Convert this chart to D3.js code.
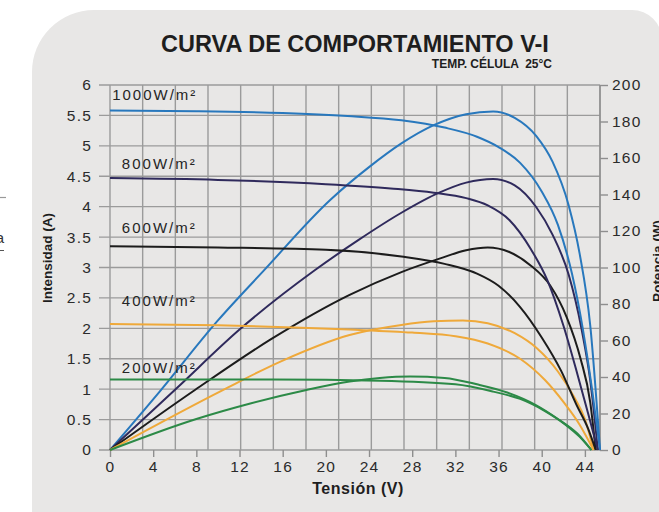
<!DOCTYPE html>
<html>
<head>
<meta charset="utf-8">
<script src="https://cdn.jsdelivr.net/npm/d3@7"></script>
<style>
  body { margin: 0; background: #fff; }
  svg { display: block; font-family: "Liberation Sans", Arial, sans-serif; }
</style>
</head>
<body>
<div id="chart"></div>
<script>
// irradiance levels, top to bottom
var levels = ["1000W/m²", "800W/m²", "600W/m²", "400W/m²", "200W/m²"]

// I-V curves, [tension V, intensity A]
var iv1000 = [[0,5.58],[8,5.57],[16,5.54],[22,5.49],[27,5.42],[31,5.3],[34,5.15],[36,4.98],[38,4.72],[40,4.25],[41.5,3.7],[42.8,2.9],[43.8,2.0],[44.7,0.95],[45.4,0]]
var iv800  = [[0,4.47],[10,4.44],[20,4.37],[26,4.3],[30,4.23],[33,4.14],[35,4.02],[37,3.78],[39,3.3],[40.5,2.8],[42,2.05],[43.3,1.25],[44.3,0.6],[45.2,0]]
var iv600  = [[0,3.35],[10,3.33],[20,3.29],[27,3.18],[31,3.06],[34,2.9],[36,2.7],[38,2.35],[40,1.85],[41.8,1.3],[43.2,0.75],[44.3,0.35],[45.0,0]]
var iv400  = [[0,2.07],[10,2.05],[22.2,1.98],[28,1.93],[32,1.87],[35,1.75],[38,1.5],[40.3,1.15],[42.1,0.77],[43.5,0.42],[44.8,0]]
var iv200  = [[0,1.16],[15,1.16],[25,1.14],[32,1.08],[35.5,0.96],[38,0.84],[40.3,0.64],[42.1,0.43],[43.5,0.22],[44.6,0]]

// P-V curves, [tension V, potencia W]
var pv1000 = [[0,0],[4.6,32],[10,71],[14.2,98],[20.4,137],[24,155],[27,168],[30,178],[33,184],[35.5,185.5],[37.5,182],[39.5,172],[41,158],[42.5,134],[43.5,108],[44.5,68],[45.4,0]]
var pv800  = [[0,0],[6.2,34],[12,66],[19,98.6],[23,115],[27,130],[30.5,141],[33,146.5],[35.5,148.5],[37.5,145],[39.5,133],[41,118],[42.5,96],[43.7,66],[44.5,38],[45.2,0]]
var pv600  = [[0,0],[7.9,33],[15,61],[22.2,85],[27,97.5],[30.6,105],[33,109.5],[35,111],[37,108.5],[39,101],[40.8,90],[42.3,73],[43.6,50],[44.5,26],[45.0,0]]
var pv400  = [[0,0],[10.5,33],[16,49],[22.2,63],[27,68.5],[30,70.5],[32.7,71],[35,69.5],[37.5,64],[39.5,56],[41.5,43],[43,29],[44,17],[44.8,0]]
var pv200  = [[0,0],[8,17],[13,25.5],[18.2,32.9],[22.2,37.5],[25,39.5],[27.8,40.3],[31,39.5],[34,36],[36.8,31.5],[39.5,24.5],[41.5,17],[43.3,9],[44.6,0]]

var ivCurves = [iv1000, iv800, iv600, iv400, iv200]
var pvCurves = [pv1000, pv800, pv600, pv400, pv200]

// axis ticks
var xTicks = [0,4,8,12,16,20,24,28,32,36,40,44]
var iTicks = [0,0.5,1,1.5,2,2.5,3,3.5,4,4.5,5,5.5,6]
var pTicks = [0,20,40,60,80,100,120,140,160,180,200]

// styling / layout
var colors = ["#2878bd", "#2f2a5c", "#1c1c1c", "#efa93a", "#2c8a47"]
var labelAmps = [5.75, 4.62, 3.56, 2.36, 1.27]
var labelVolts = [0.2, 1.1, 1.1, 1.1, 1.1]

var width = 659, height = 512
var mLeft = 110, mRight = 600, mTop = 85, mBottom = 450
var xMax = 45.4

var svg = d3.select("#chart").append("svg")
  .attr("width", width)
  .attr("height", height)

// panel
var p = d3.path()
p.moveTo(32, 72)
p.arcTo(32, 10, 94, 10, 62)
p.lineTo(632, 10)
p.arcTo(662, 10, 662, 40, 30)
p.lineTo(662, 530)
p.lineTo(32, 530)
p.closePath()
svg.append("path").attr("d", p.toString()).attr("fill", "#e8e7e6")

// bits of the page outside the panel
svg.append("line").attr("x1", 0).attr("x2", 6).attr("y1", 197.5).attr("y2", 197.5)
  .attr("stroke", "#999").attr("stroke-width", 1.2)
svg.append("text").attr("x", -4.3).attr("y", 243).attr("font-size", 15).attr("fill", "#333").text("a")
svg.append("line").attr("x1", 0).attr("x2", 4).attr("y1", 250.5).attr("y2", 250.5)
  .attr("stroke", "#555").attr("stroke-width", 1)

var x = d3.scaleLinear().domain([0, xMax]).range([mLeft, mRight])
var yI = d3.scaleLinear().domain([0, 6]).range([mBottom, mTop])
var yP = d3.scaleLinear().domain([0, 200]).range([mBottom, mTop])

var grid = svg.append("g").attr("stroke", "#9b9b9b").attr("stroke-width", 1.4)

// vertical grid splits the plot in 15
grid.selectAll(".gv")
  .data(d3.range(16).map(function(i) { return xMax * i / 15 }))
  .enter().append("line")
  .attr("x1", function(d) { return x(d) }).attr("x2", function(d) { return x(d) })
  .attr("y1", mTop).attr("y2", mBottom)

grid.selectAll(".gh")
  .data(iTicks)
  .enter().append("line")
  .attr("x1", mLeft - 11).attr("x2", mRight)
  .attr("y1", function(d) { return yI(d) }).attr("y2", function(d) { return yI(d) })

function styleAxis(g) {
  g.select(".domain").remove()
  g.selectAll(".tick line").attr("stroke", "#8e8e8e").attr("stroke-width", 1.4)
  g.selectAll(".tick text").attr("fill", "#2b2b2b").attr("font-size", 15.5)
    .attr("font-family", "Liberation Sans, Arial, sans-serif").attr("letter-spacing", 1.2)
}

svg.append("g")
  .attr("transform", "translate(0," + mBottom + ")")
  .call(d3.axisBottom(x).tickValues(xTicks).tickSize(7).tickPadding(4).tickFormat(d3.format("d")))
  .call(styleAxis)

svg.append("g")
  .attr("transform", "translate(" + mLeft + ",0)")
  .call(d3.axisLeft(yI).tickValues(iTicks).tickSize(0).tickPadding(18).tickFormat(function(d) { return String(d) }))
  .call(styleAxis)

svg.append("g")
  .attr("transform", "translate(" + mRight + ",0)")
  .call(d3.axisRight(yP).tickValues(pTicks).tickSize(8).tickPadding(4).tickFormat(d3.format("d")))
  .call(styleAxis)

svg.append("line").attr("x1", mRight).attr("x2", mRight).attr("y1", mTop).attr("y2", mBottom)
  .attr("stroke", "#8e8e8e").attr("stroke-width", 1.4)

// curves
var ivLine = d3.line().x(function(d) { return x(d[0]) }).y(function(d) { return yI(d[1]) }).curve(d3.curveMonotoneX)
var pvLine = d3.line().x(function(d) { return x(d[0]) }).y(function(d) { return yP(d[1]) }).curve(d3.curveMonotoneX)

var curves = svg.append("g").attr("fill", "none").attr("stroke-width", 2)

curves.selectAll(".pv").data(pvCurves).enter().append("path")
  .attr("d", pvLine).attr("stroke", function(d, i) { return colors[i] })

curves.selectAll(".iv").data(ivCurves).enter().append("path")
  .attr("d", ivLine).attr("stroke", function(d, i) { return colors[i] })

// level labels
svg.selectAll(".lvl").data(levels).enter().append("text")
  .attr("x", function(d, i) { return x(labelVolts[i]) })
  .attr("y", function(d, i) { return yI(labelAmps[i]) })
  .attr("font-size", 15).attr("fill", "#252525").attr("letter-spacing", 2)
  .text(function(d) { return d })

// titles
svg.append("text").attr("x", 355).attr("y", 52).attr("text-anchor", "middle")
  .attr("font-size", 23.5).attr("font-weight", "bold").attr("fill", "#1e1e1e")
  .text("CURVA DE COMPORTAMIENTO V-I")

svg.append("text").attr("x", 552).attr("y", 68).attr("text-anchor", "end")
  .attr("font-size", 12).attr("font-weight", "bold").attr("fill", "#1e1e1e")
  .attr("xml:space", "preserve")
  .text("TEMP. CÉLULA  25°C")

svg.append("text").attr("x", 358).attr("y", 494).attr("text-anchor", "middle")
  .attr("font-size", 16).attr("font-weight", "bold").attr("fill", "#1e1e1e")
  .attr("letter-spacing", 0.5)
  .text("Tensión (V)")

svg.append("text").attr("transform", "translate(52,258) rotate(-90)").attr("text-anchor", "middle")
  .attr("font-size", 13.5).attr("font-weight", "bold").attr("fill", "#1e1e1e")
  .text("Intensidad (A)")

svg.append("text").attr("transform", "translate(662,261) rotate(-90)").attr("text-anchor", "middle")
  .attr("font-size", 13.5).attr("font-weight", "bold").attr("fill", "#1e1e1e")
  .text("Potencia (W)")
</script>
</body>
</html>
